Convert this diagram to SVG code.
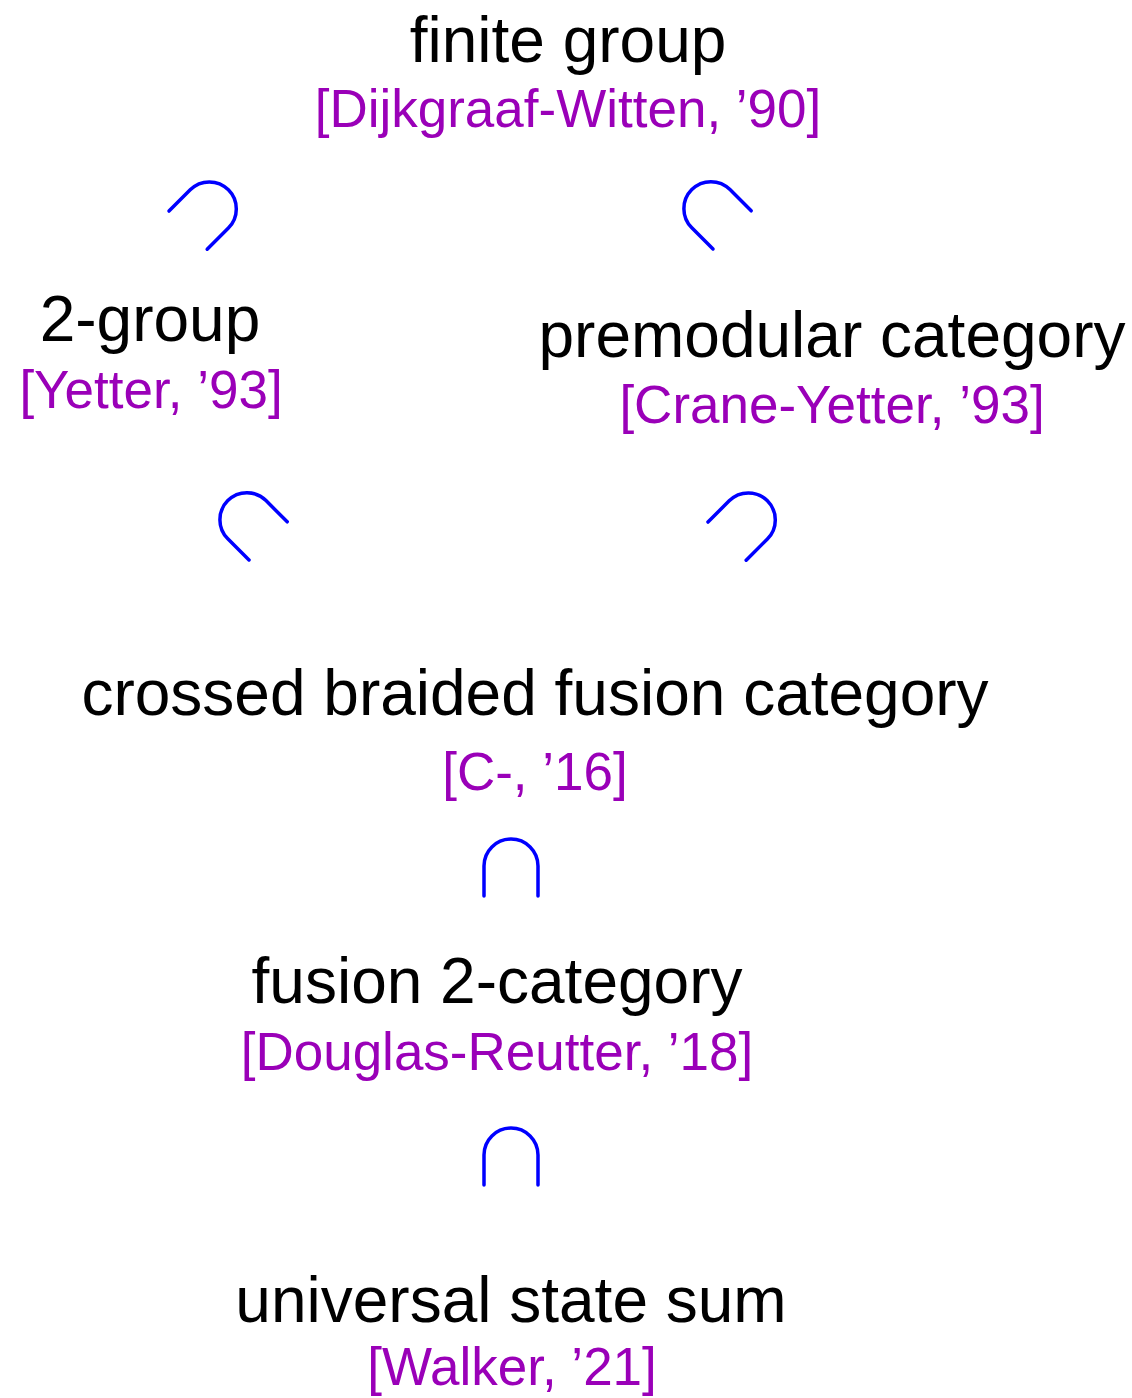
<svg xmlns="http://www.w3.org/2000/svg" width="1132" height="1398" viewBox="0 0 1132 1398">
<defs>
<style>
.t{font-family:"Liberation Sans",Arial,sans-serif;font-size:64px;fill:#000;text-anchor:middle}
.r{font-family:"Liberation Sans",Arial,sans-serif;font-size:53px;fill:#9a00b8;text-anchor:middle}
.c{fill:none;stroke:#0000ff;stroke-width:3.5;stroke-linecap:round}
</style>
<path id="cap" d="M-27,30 V0 A27,27 0 0 1 27,0 V30"/>
</defs>
<rect width="1132" height="1398" fill="#fff"/>
<g id="finite-group">
<text class="t" x="568" y="62">finite group</text>
<text class="r" x="568" y="127">[Dijkgraaf-Witten, ’90]</text>
</g>
<g id="two-group">
<text class="t" x="150" y="341">2-group</text>
<text class="r" x="151" y="408">[Yetter, ’93]</text>
</g>
<g id="premodular">
<text class="t" x="832" y="357">premodular category</text>
<text class="r" x="832" y="423">[Crane-Yetter, ’93]</text>
</g>
<g id="crossed-braided">
<text class="t" x="535" y="715">crossed braided fusion category</text>
<text class="r" x="535" y="790">[C-, ’16]</text>
</g>
<g id="fusion-2-category">
<text class="t" x="497" y="1003">fusion 2-category</text>
<text class="r" x="497" y="1070">[Douglas-Reutter, ’18]</text>
</g>
<g id="universal-state-sum">
<text class="t" x="511" y="1322">universal state sum</text>
<text class="r" x="512" y="1385">[Walker, ’21]</text>
</g>
<g id="connectors">
<use href="#cap" class="c" transform="translate(209.3,208.9) rotate(45)"/>
<use href="#cap" class="c" transform="translate(710.9,208.7) rotate(-45)"/>
<use href="#cap" class="c" transform="translate(246.9,519.7) rotate(-45)"/>
<use href="#cap" class="c" transform="translate(748.3,519.9) rotate(45)"/>
<use href="#cap" class="c" transform="translate(511,866)"/>
<use href="#cap" class="c" transform="translate(511,1155)"/>
</g>
</svg>
